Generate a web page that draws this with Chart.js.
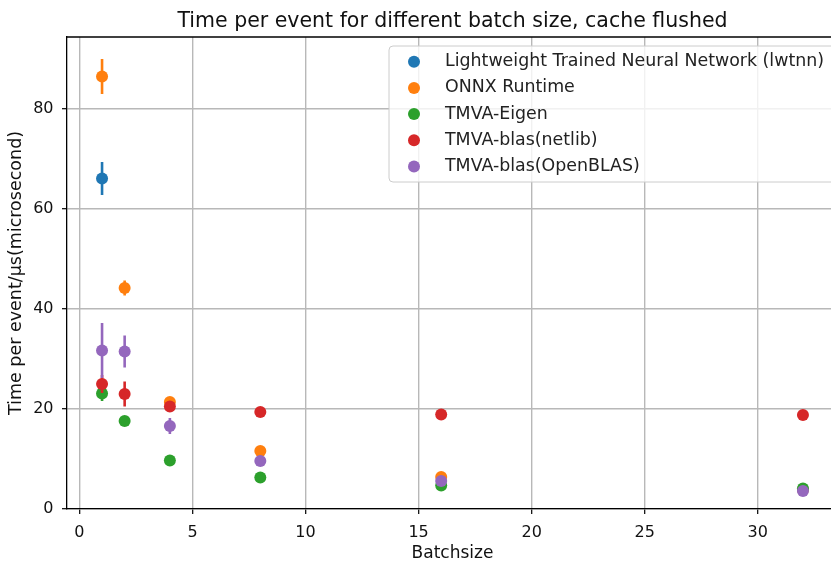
<!DOCTYPE html>
<html>
<head>
<meta charset="utf-8">
<script src="https://cdn.jsdelivr.net/npm/chart.js@4.4.1/dist/chart.umd.min.js"></script>
<style>
html,body{margin:0;padding:0;background:#fff;overflow:hidden;}
#wrap{width:831px;height:562px;position:relative;overflow:hidden;}
canvas{display:block;}
</style>
</head>
<body>
<div id="wrap"><canvas id="c" width="845" height="564"></canvas></div>
<script>
// ---- data ----
const chartTitle = 'Time per event for different batch size, cache flushed';
const batchSizes = [1, 2, 4, 8, 16, 32];
const seriesNames = [
  "Lightweight Trained Neural Network (lwtnn)",
  "ONNX Runtime",
  "TMVA-Eigen",
  "TMVA-blas(netlib)",
  "TMVA-blas(OpenBLAS)"
];
const lwtnnX = [1];
const lwtnnY = [66.1];
const lwtnnErr = [3.3];
const onnxY = [86.5, 44.2, 21.4, 11.6, 6.4, 3.8];
const onnxErr = [3.5, 1.5, 0.8, 0.5, 0.4, 0.3];
const eigenY = [23.1, 17.6, 9.7, 6.3, 4.7, 4.1];
const eigenErr = [1.5, 0.4, 0.3, 0.3, 0.3, 0.3];
const netlibY = [25.0, 23.0, 20.5, 19.4, 18.9, 18.8];
const netlibErr = [1.8, 2.5, 0.9, 0.4, 0.3, 0.3];
const openblasY = [31.7, 31.5, 16.6, 9.6, 5.6, 3.6];
const openblasErr = [5.5, 3.2, 1.6, 0.5, 0.5, 0.3];
const xTicksStep = 5;
const yTicksStep = 20;

const colors = ['#1f77b4', '#ff7f0e', '#2ca02c', '#d62728', '#9467bd'];
const xs = [lwtnnX, batchSizes, batchSizes, batchSizes, batchSizes];
const ys = [lwtnnY, onnxY, eigenY, netlibY, openblasY];
const errs = [lwtnnErr, onnxErr, eigenErr, netlibErr, openblasErr];

const datasets = seriesNames.map((name, i) => ({
  label: name,
  data: xs[i].map((x, j) => ({x: x, y: ys[i][j]})),
  errs: errs[i],
  backgroundColor: colors[i],
  borderColor: colors[i],
  borderWidth: 0,
  pointRadius: 6,
  pointHoverRadius: 6,
  order: seriesNames.length - 1 - i
}));

const FONT = "'DejaVu Sans', sans-serif";

const onStep = (step, col) => (c) => (c.tick && Math.abs(c.tick.value / step - Math.round(c.tick.value / step)) < 1e-9) ? col : 'rgba(0,0,0,0)';

const errorBarPlugin = {
  id: 'errorBars',
  beforeDatasetDraw(chart, args) {
    const ds = chart.data.datasets[args.index];
    const xS = chart.scales.x, yS = chart.scales.y;
    const ctx = chart.ctx;
    ctx.save();
    ctx.strokeStyle = ds.borderColor;
    ctx.lineWidth = 2.6;
    ctx.lineCap = 'butt';
    ds.data.forEach((p, j) => {
      const e = ds.errs[j];
      const px = xS.getPixelForValue(p.x);
      ctx.beginPath();
      ctx.moveTo(px, yS.getPixelForValue(p.y - e));
      ctx.lineTo(px, yS.getPixelForValue(p.y + e));
      ctx.stroke();
    });
    ctx.restore();
  },
  afterDraw(chart) {
    const ctx = chart.ctx;
    const a = chart.chartArea;
    ctx.save();
    // top spine
    ctx.strokeStyle = '#000';
    ctx.lineWidth = 1.3;
    ctx.beginPath();
    ctx.moveTo(a.left, a.top);
    ctx.lineTo(a.right, a.top);
    ctx.stroke();
    // title
    ctx.fillStyle = '#111';
    ctx.font = '20.5px ' + FONT;
    ctx.textAlign = 'center';
    ctx.textBaseline = 'alphabetic';
    ctx.fillText(chartTitle, (a.left + a.right) / 2, 26.7);
    // legend
    const bx = 389, by = 46, bw = 460, bh = 136, r = 4;
    ctx.fillStyle = 'rgba(255,255,255,0.8)';
    ctx.strokeStyle = '#cccccc';
    ctx.lineWidth = 1;
    ctx.beginPath();
    ctx.moveTo(bx + r, by);
    ctx.lineTo(bx + bw - r, by);
    ctx.arcTo(bx + bw, by, bx + bw, by + r, r);
    ctx.lineTo(bx + bw, by + bh - r);
    ctx.arcTo(bx + bw, by + bh, bx + bw - r, by + bh, r);
    ctx.lineTo(bx + r, by + bh);
    ctx.arcTo(bx, by + bh, bx, by + bh - r, r);
    ctx.lineTo(bx, by + r);
    ctx.arcTo(bx, by, bx + r, by, r);
    ctx.closePath();
    ctx.fill();
    ctx.stroke();
    ctx.font = '17.4px ' + FONT;
    ctx.textBaseline = 'middle';
    ctx.textAlign = 'left';
    chart.data.datasets.forEach((ds, i) => {
      const yy = 61.7 + i * 26.2;
      ctx.fillStyle = ds.backgroundColor;
      ctx.beginPath();
      ctx.arc(414, yy, 6, 0, Math.PI * 2);
      ctx.fill();
      ctx.fillStyle = '#222';
      ctx.fillText(ds.label, 445, yy);
    });
    ctx.restore();
  }
};

new Chart(document.getElementById('c'), {
  type: 'scatter',
  data: { datasets: datasets },
  plugins: [errorBarPlugin],
  options: {
    responsive: false,
    animation: false,
    devicePixelRatio: 1,
    layout: { autoPadding: false, padding: { left: 0, right: 7, top: 37, bottom: 0 } },
    plugins: {
      legend: { display: false },
      tooltip: { enabled: false },
      title: { display: false }
    },
    scales: {
      x: {
        type: 'linear',
        min: -0.55,
        max: 33.55,
        afterFit(s) { s.height = 55; },
        ticks: {
          stepSize: xTicksStep,
          includeBounds: false,
          color: '#111',
          font: { family: FONT, size: 16 },
          padding: 9,
          maxRotation: 0
        },
        grid: { color: onStep(xTicksStep, '#b8b8b8'), lineWidth: 1.4, tickColor: onStep(xTicksStep, '#000'), tickLength: 5, tickWidth: 1.2 },
        border: { color: '#000', width: 1.3 },
        title: {
          display: true,
          text: 'Batchsize',
          color: '#111',
          font: { family: FONT, size: 17 },
          padding: { top: 0, bottom: 0 }
        }
      },
      y: {
        type: 'linear',
        min: 0,
        max: 94.4,
        afterFit(s) { s.width = 67; },
        ticks: {
          stepSize: yTicksStep,
          includeBounds: false,
          color: '#111',
          font: { family: FONT, size: 16 },
          padding: 8.5
        },
        grid: { color: onStep(yTicksStep, '#b8b8b8'), lineWidth: 1.4, tickColor: onStep(yTicksStep, '#000'), tickLength: 5, tickWidth: 1.2 },
        border: { color: '#000', width: 1.3 },
        title: {
          display: true,
          text: 'Time per event/µs(microsecond)',
          color: '#111',
          font: { family: FONT, size: 17.5 },
          padding: { top: 6, bottom: 0 }
        }
      }
    }
  }
});
</script>
</body>
</html>
